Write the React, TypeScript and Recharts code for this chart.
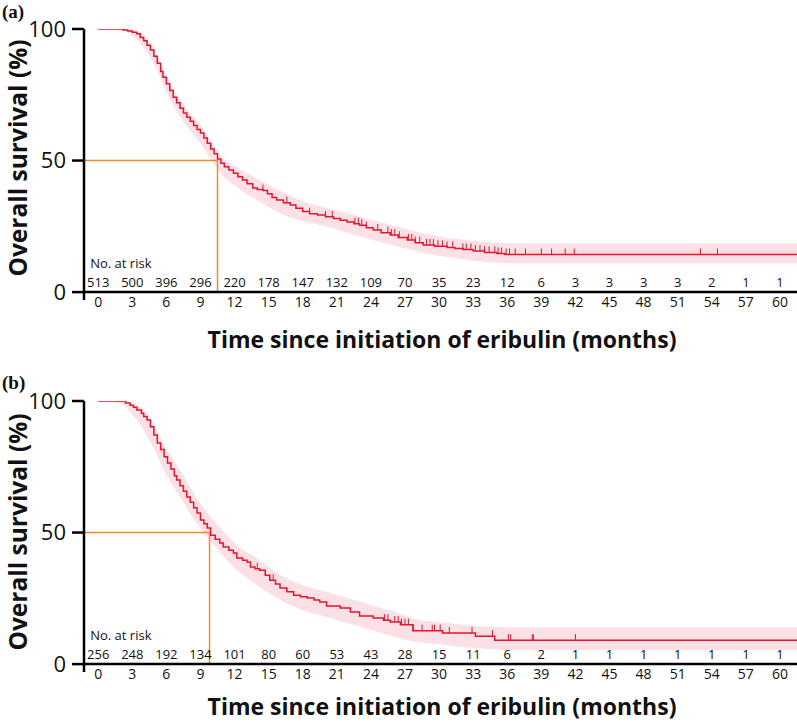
import { ComposedChart, Line, Area, Scatter, XAxis, YAxis, ReferenceLine } from "recharts";

const months = [0, 3, 6, 9, 12, 15, 18, 21, 24, 27, 30, 33, 36, 39, 42, 45, 48, 51, 54, 57, 60];
const yTicks = [0, 50, 100];

// numbers at risk under each month tick
const riskA = [513, 500, 396, 296, 220, 178, 147, 132, 109, 70, 35, 23, 12, 6, 3, 3, 3, 3, 2, 1, 1];
const riskB = [256, 248, 192, 134, 101, 80, 60, 53, 43, 28, 15, 11, 6, 2, 1, 1, 1, 1, 1, 1, 1];

// panel (a) Kaplan-Meier estimate
const timeA = [0, 1.9, 2.2, 2.6, 3.0, 3.4, 3.7, 4.0, 4.3, 4.6, 4.9, 5.2, 5.5, 5.7, 6.0, 6.3, 6.6, 6.9, 7.2, 7.5, 7.8, 8.1, 8.4, 8.7, 9.0, 9.3, 9.6, 9.9, 10.2, 10.5, 10.8, 11.1, 11.5, 11.9, 12.3, 12.7, 13.1, 13.6, 14.0, 14.5, 14.9, 15.3, 15.7, 16.3, 16.9, 17.4, 18.0, 18.6, 19.3, 20.0, 20.7, 21.3, 21.9, 22.5, 23.0, 23.6, 24.2, 24.9, 25.7, 26.4, 27.2, 27.9, 28.6, 29.6, 30.7, 31.4, 32.1, 33.0, 34.0, 35.1, 35.8, 61.5];
const survA = [100, 100, 99.6, 99.2, 98.8, 98.2, 96.8, 95.5, 93.8, 92.0, 89.6, 87.0, 83.8, 81.7, 79.2, 76.6, 74.1, 72.0, 69.9, 68.1, 66.5, 64.9, 63.3, 61.8, 60.5, 58.6, 56.6, 54.4, 52.6, 50.6, 49.0, 47.6, 46.4, 45.2, 43.8, 42.6, 41.2, 39.6, 39.0, 38.6, 37.4, 36.0, 35.0, 34.0, 33.1, 31.9, 30.6, 29.8, 29.3, 28.6, 28.0, 27.3, 26.6, 26.0, 25.4, 24.5, 23.6, 22.6, 21.7, 20.8, 19.8, 18.8, 17.9, 17.4, 17.0, 16.6, 16.2, 15.6, 15.1, 14.7, 14.3, 14.3];
const bandTimeA = [0, 2, 3, 4, 5, 6, 7, 8, 9, 10, 11, 12, 14, 16, 18, 20, 22, 24, 26, 28, 30, 32, 34, 36, 61.5];
const bandLowA = [100, 99.5, 97.5, 93, 86, 76, 68, 62, 56.5, 50, 44, 40.5, 35, 30, 27, 25, 22.5, 20, 17.8, 15.5, 13.8, 12.5, 11.5, 11, 11];
const bandHighA = [100, 100, 99.6, 97.5, 91.5, 82, 74.5, 68.5, 63.5, 57, 51, 48, 43, 38.5, 34.5, 32, 30, 27.5, 25.2, 23, 21, 20, 19, 18.6, 18.6];
const censorA = [14.5, 16.6, 18.6, 20.0, 20.6, 22.6, 22.9, 23.2, 23.6, 24.6, 25.5, 25.8, 26.1, 26.5, 27.3, 27.6, 27.9, 28.3, 28.9, 29.2, 29.5, 29.9, 30.3, 30.7, 31.2, 32.1, 32.4, 32.8, 33.2, 33.6, 34.0, 34.4, 34.9, 35.2, 35.5, 35.9, 36.2, 36.7, 37.6, 39.0, 39.9, 41.1, 41.9, 53.0, 54.5];
const medianA = 10.5;

// panel (b)
const timeB = [0, 2.1, 2.4, 2.8, 3.1, 3.4, 3.8, 4.0, 4.3, 4.6, 4.9, 5.2, 5.5, 5.8, 6.1, 6.4, 6.7, 6.9, 7.2, 7.5, 7.8, 8.1, 8.4, 8.7, 9.0, 9.3, 9.6, 9.9, 10.3, 10.7, 11.0, 11.5, 11.9, 12.2, 12.7, 13.1, 13.4, 13.8, 14.2, 14.7, 15.1, 15.6, 16.0, 16.6, 17.2, 17.8, 18.4, 19.0, 19.5, 20.1, 21.3, 22.2, 23.0, 24.2, 25.1, 25.7, 26.6, 27.7, 30.3, 33.2, 34.9, 61.5];
const survB = [100, 100, 99.2, 98.4, 97.6, 96.6, 95.3, 94.1, 92.8, 90.2, 87.1, 84.0, 81.6, 78.8, 76.4, 74.2, 71.6, 70.0, 67.8, 65.7, 63.5, 61.5, 59.4, 57.4, 54.8, 53.3, 51.7, 49.0, 47.5, 46.0, 44.5, 43.3, 42.2, 40.3, 39.5, 38.8, 36.9, 36.2, 35.7, 33.8, 31.9, 30.4, 28.9, 27.5, 26.2, 25.6, 25.1, 24.4, 23.6, 22.1, 21.3, 19.8, 18.3, 17.5, 16.7, 16.0, 15.0, 12.7, 11.8, 10.6, 9.1, 9.1];
const bandTimeB = [0, 2, 3, 4, 5, 6, 7, 8, 9, 10, 11, 12, 14, 16, 18, 20, 22, 24, 26, 28, 30, 32, 34, 36, 61.5];
const bandLowB = [100, 99, 95, 89, 81, 72, 65, 58, 51.5, 46, 41, 36.5, 30, 24.5, 20.5, 18, 15.5, 13, 10.5, 8.5, 7.5, 6.5, 5.8, 5.3, 5.3];
const bandHighB = [100, 100, 99.5, 96.5, 90, 82, 75, 68, 61, 55.5, 50.5, 46, 40, 34, 30, 27.5, 25, 22.5, 20, 17, 16, 15, 14.3, 14, 14];
const censorB = [14.0, 15.4, 25.2, 25.5, 26.1, 26.4, 26.7, 27.0, 27.3, 27.7, 28.5, 29.4, 29.6, 30.1, 30.9, 32.9, 34.7, 36.1, 36.3, 38.2, 38.3, 42.0];
const medianB = 9.8;

const X_MIN = -1.25;
const X_MAX = 61.5;
const RED = "#e5142e";
const BAND = "#fbe0e5";
const ORANGE = "#f5892a";
const FONT = "'Open Sans', 'Noto Sans', sans-serif";

function stepValue(times: number[], surv: number[], t: number) {
  let v = surv[0];
  for (let i = 0; i < times.length; i++) if (times[i] <= t) v = surv[i];
  return v;
}

function CensorMark(props: any) {
  const { cx, cy } = props;
  return <line x1={cx} x2={cx} y1={cy} y2={cy - 6} stroke={RED} strokeWidth={1} />;
}

function RiskTick(props: any) {
  const { x, y, payload, risk } = props;
  const i = months.indexOf(payload.value);
  return (
    <g fontFamily={FONT} fill="#111">
      {i === 0 && (
        <text x={x - 8} y={y - 32} fontSize={13} fill="#111">
          No. at risk
        </text>
      )}
      <text x={x} y={y - 13} fontSize={13} textAnchor="middle" fill="#111">
        {risk[i]}
      </text>
      <text x={x} y={y + 7} fontSize={14} textAnchor="middle" fill="#111">
        {payload.value}
      </text>
    </g>
  );
}

interface PanelProps {
  times: number[];
  surv: number[];
  bandTime: number[];
  bandLow: number[];
  bandHigh: number[];
  censor: number[];
  risk: number[];
  median: number;
  height: number;
  top: number;
  axisHeight: number;
}

function KMPanel(p: PanelProps) {
  const curve = p.times.map((t, i) => ({ t, s: p.surv[i] }));
  const band = p.bandTime.map((t, i) => ({ t, band: [p.bandLow[i], p.bandHigh[i]] }));
  const marks = p.censor.map((t) => ({ t, s: stepValue(p.times, p.surv, t) }));
  return (
    <ComposedChart width={797} height={p.height} margin={{ top: p.top, right: 0, bottom: 0, left: 0 }}>
      <XAxis
        type="number"
        dataKey="t"
        domain={[X_MIN, X_MAX]}
        ticks={months}
        interval={0}
        allowDataOverflow
        axisLine={false}
        tickLine={false}
        tickSize={0}
        tickMargin={0}
        height={p.axisHeight}
        tick={<RiskTick risk={p.risk} />}
      />
      <YAxis
        type="number"
        domain={[-3, 100]}
        ticks={yTicks}
        allowDataOverflow
        width={84}
        axisLine={{ stroke: "#000", strokeWidth: 2.5 }}
        tickLine={{ stroke: "#000", strokeWidth: 2.5 }}
        tickSize={12}
        tickMargin={6}
        tick={{ fontSize: 22, fill: "#111", fontFamily: FONT }}
      />
      <Area
        data={band}
        dataKey="band"
        type="monotone"
        stroke="none"
        fill={BAND}
        fillOpacity={1}
        isAnimationActive={false}
      />
      <ReferenceLine
        segment={[{ x: X_MIN, y: 50 }, { x: p.median, y: 50 }]}
        stroke={ORANGE}
        strokeWidth={1.5}
      />
      <ReferenceLine
        segment={[{ x: p.median, y: 50 }, { x: p.median, y: 0 }]}
        stroke={ORANGE}
        strokeWidth={1.5}
      />
      <ReferenceLine y={0} stroke="#000" strokeWidth={2.5} />
      <Line
        data={curve}
        dataKey="s"
        type="stepAfter"
        stroke={RED}
        strokeWidth={1.5}
        dot={false}
        isAnimationActive={false}
      />
      <Scatter data={marks} dataKey="s" shape={<CensorMark />} isAnimationActive={false} />
    </ComposedChart>
  );
}

export default function App() {
  const xTitle = "Time since initiation of eribulin (months)";
  return (
    <div style={{ position: "absolute", left: 0, top: 0, width: 797, height: 722, background: "#fff" }}>
      <KMPanel
        times={timeA}
        surv={survA}
        bandTime={bandTimeA}
        bandLow={bandLowA}
        bandHigh={bandHighA}
        censor={censorA}
        risk={riskA}
        median={medianA}
        height={360}
        top={29}
        axisHeight={60}
      />
      <KMPanel
        times={timeB}
        surv={survB}
        bandTime={bandTimeB}
        bandLow={bandLowB}
        bandHigh={bandHighB}
        censor={censorB}
        risk={riskB}
        median={medianB}
        height={362}
        top={41}
        axisHeight={50}
      />
      <svg
        width={797}
        height={722}
        style={{ position: "absolute", left: 0, top: 0, pointerEvents: "none" }}
      >
        <g fontFamily="'Liberation Serif', serif" fontWeight="bold" fontSize={19} fill="#111">
          <text x={2} y={18}>(a)</text>
          <text x={2} y={389}>(b)</text>
        </g>
        <g fontFamily={FONT} fontWeight="bold" fill="#111" textAnchor="middle">
          <text x={442} y={348} fontSize={23}>{xTitle}</text>
          <text x={442} y={715} fontSize={23}>{xTitle}</text>
          <text transform="translate(27,158) rotate(-90)" fontSize={24.5}>Overall survival (%)</text>
          <text transform="translate(27,532) rotate(-90)" fontSize={24.5}>Overall survival (%)</text>
        </g>
      </svg>
    </div>
  );
}
